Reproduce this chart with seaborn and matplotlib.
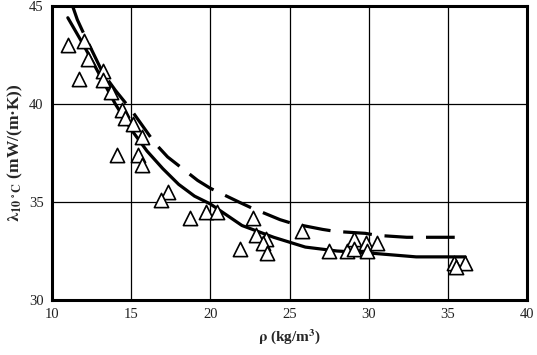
import matplotlib
matplotlib.use("Agg")
import matplotlib.pyplot as plt
import seaborn as sns
import pandas as pd

# measured points (triangles)
rho_pts = [11.0, 12.0, 12.3, 11.7, 13.2, 13.2, 13.7, 14.4, 14.6, 15.1, 15.7, 14.1, 15.4, 15.7,
           17.3, 16.9, 18.7, 19.7, 20.4, 22.7, 22.9, 23.5, 23.3, 21.9, 23.6, 25.8,
           27.5, 28.6, 29.1, 29.1, 29.8, 29.9, 30.5, 35.4, 36.1, 35.5]
lam_pts = [43.0, 43.2, 42.3, 41.3, 41.7, 41.2, 40.6, 39.7, 39.3, 39.0, 38.3, 37.4, 37.4, 36.9,
           35.5, 35.1, 34.2, 34.5, 34.5, 34.2, 33.3, 33.1, 32.9, 32.6, 32.4, 33.5,
           32.5, 32.5, 33.1, 32.6, 32.9, 32.5, 32.9, 31.9, 31.9, 31.7]

# solid curve
rho_solid = [11.0, 12, 13, 14, 15, 16, 17, 18, 19, 20, 22, 24, 26, 28, 30, 33, 36.1]
lam_solid = [44.4, 43.0, 41.5, 40.0, 38.7, 37.6, 36.7, 35.9, 35.3, 34.9, 33.8, 33.2, 32.7, 32.5, 32.4, 32.2, 32.2]

# dashed curve
rho_dash = [11.3, 11.6, 12.0, 12.9, 13.2, 14, 15, 16.5, 17.3, 19.2, 20, 21.8, 22.6, 24.4,
            25.2, 27.1, 27.9, 29.8, 30.5, 32.4, 33.1, 35, 36.2]
lam_dash = [45.0, 44.3, 43.6, 42.1, 41.6, 40.7, 39.7, 38.0, 37.3, 36.1, 35.7, 35.0, 34.7, 34.1,
            33.9, 33.6, 33.5, 33.4, 33.3, 33.2, 33.2, 33.2, 33.2]

x_ticks = [10, 15, 20, 25, 30, 35, 40]
y_ticks = [30, 35, 40, 45]

sns.set_style("white")
plt.rcParams['font.family'] = ['Liberation Serif', 'DejaVu Serif']
plt.rcParams['mathtext.fontset'] = 'stix'

fig = plt.figure(figsize=(5.37, 3.55), dpi=100)
ax = fig.add_axes([52/537, 1 - 300/355, 475/537, 294/355])

df_pts = pd.DataFrame({'rho': rho_pts, 'lam': lam_pts})
df_solid = pd.DataFrame({'rho': rho_solid, 'lam': lam_solid})
df_dash = pd.DataFrame({'rho': rho_dash, 'lam': lam_dash})

sns.lineplot(data=df_solid, x='rho', y='lam', ax=ax, color='black', linewidth=2.3,
             sort=False, estimator=None, zorder=3)
sns.lineplot(data=df_dash, x='rho', y='lam', ax=ax, color='black', linewidth=2.3,
             sort=False, estimator=None, linestyle=(0, (9, 4)), zorder=3)
sns.scatterplot(data=df_pts, x='rho', y='lam', ax=ax, marker='^', s=105,
                facecolor='white', edgecolor='black', linewidth=1.2, zorder=4)

ax.set_xlim(10, 40)
ax.set_ylim(30, 45)
ax.set_xticks(x_ticks)
ax.set_yticks(y_ticks)
ax.grid(True, color='black', linewidth=0.9)
ax.tick_params(length=0, labelsize=10.5, colors='#222222', pad=6)
for s in ax.spines.values():
    s.set_linewidth(2.2)
    s.set_color('black')

ax.set_xlabel(r'$\mathbf{\rho}$ (kg/m$^\mathbf{3}$)', fontsize=11, fontweight='bold', labelpad=4)
ax.set_ylabel(r'$\mathbf{\lambda}_\mathbf{10\,^\circ C}$ (mW/(m·K))', fontsize=12.5,
              fontweight='bold', labelpad=3)

fig.savefig('out.png', dpi=100)
